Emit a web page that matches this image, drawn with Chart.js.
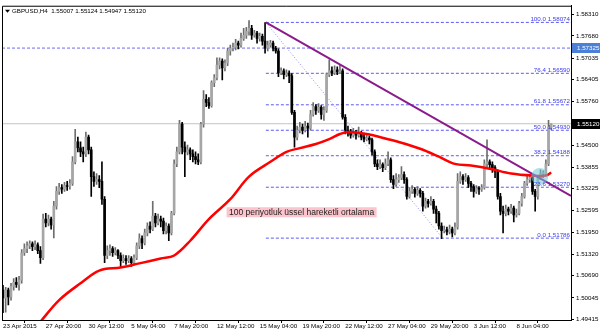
<!DOCTYPE html>
<html>
<head>
<meta charset="utf-8">
<title>GBPUSD H4</title>
<script src="https://cdn.jsdelivr.net/npm/chart.js@4.4.1/dist/chart.umd.min.js"></script>
<style>
  html, body { margin: 0; padding: 0; background: #fff; }
  canvas { display: block; }
</style>
</head>
<body>
<canvas id="chart" width="600" height="333"></canvas>
<script>
const symbolTitle = "GBPUSD,H4  1.55007 1.55124 1.54947 1.55120";

// H4 candles (bar 0 = 23 Apr 2015 04:00)
const opens = [
  1.5027, 1.5004, 1.5027, 1.5007, 1.5038, 1.5050, 1.5044, 1.5056, 1.5136, 1.5148,
  1.5156, 1.5162, 1.5154, 1.5159, 1.5142, 1.5122, 1.5234, 1.5223, 1.5234, 1.5217,
  1.5272, 1.5315, 1.5326, 1.5321, 1.5332, 1.5329, 1.5338, 1.5401, 1.5459, 1.5442,
  1.5430, 1.5424, 1.5473, 1.5436, 1.5358, 1.5344, 1.5349, 1.5344, 1.5292, 1.5128,
  1.5142, 1.5148, 1.5136, 1.5142, 1.5128, 1.5113, 1.5119, 1.5113, 1.5119, 1.5107,
  1.5122, 1.5156, 1.5177, 1.5165, 1.5194, 1.5214, 1.5205, 1.5243, 1.5223, 1.5234,
  1.5228, 1.5200, 1.5214, 1.5194, 1.5251, 1.5395, 1.5430, 1.5511, 1.5444, 1.5430,
  1.5436, 1.5424, 1.5416, 1.5407, 1.5401, 1.5511, 1.5583, 1.5574, 1.5565, 1.5632,
  1.5646, 1.5683, 1.5695, 1.5675, 1.5689, 1.5724, 1.5732, 1.5735, 1.5747, 1.5741,
  1.5761, 1.5770, 1.5781, 1.5790, 1.5770, 1.5776, 1.5761, 1.5767, 1.5753, 1.5732,
  1.5741, 1.5747, 1.5732, 1.5724, 1.5660, 1.5666, 1.5655, 1.5660, 1.5652, 1.5545,
  1.5473, 1.5493, 1.5502, 1.5493, 1.5505, 1.5499, 1.5539, 1.5562, 1.5551, 1.5560,
  1.5539, 1.5551, 1.5655, 1.5666, 1.5660, 1.5669, 1.5663, 1.5666, 1.5531, 1.5493,
  1.5488, 1.5479, 1.5485, 1.5479, 1.5485, 1.5473, 1.5467, 1.5470, 1.5465, 1.5430,
  1.5395, 1.5387, 1.5393, 1.5384, 1.5395, 1.5407, 1.5349, 1.5335, 1.5349, 1.5355,
  1.5364, 1.5349, 1.5300, 1.5315, 1.5321, 1.5309, 1.5318, 1.5309, 1.5272, 1.5286,
  1.5280, 1.5286, 1.5263, 1.5251, 1.5214, 1.5200, 1.5203, 1.5197, 1.5205, 1.5194,
  1.5211, 1.5344, 1.5358, 1.5349, 1.5355, 1.5338, 1.5329, 1.5315, 1.5323, 1.5321,
  1.5326, 1.5395, 1.5401, 1.5393, 1.5384, 1.5372, 1.5300, 1.5257, 1.5251, 1.5263,
  1.5257, 1.5266, 1.5246, 1.5251, 1.5280, 1.5300, 1.5338, 1.5349, 1.5355, 1.5315,
  1.5300, 1.5355, 1.5367, 1.5367, 1.5395, 1.5501
];
const highs = [
  1.5041, 1.5035, 1.5033, 1.5047, 1.5061, 1.5064, 1.5067, 1.5145, 1.5162, 1.5168,
  1.5171, 1.5168, 1.5171, 1.5165, 1.5154, 1.5249, 1.5251, 1.5246, 1.5240, 1.5286,
  1.5329, 1.5338, 1.5335, 1.5341, 1.5344, 1.5349, 1.5416, 1.5496, 1.5473, 1.5459,
  1.5444, 1.5488, 1.5479, 1.5444, 1.5372, 1.5367, 1.5361, 1.5401, 1.5300, 1.5156,
  1.5159, 1.5154, 1.5151, 1.5145, 1.5136, 1.5130, 1.5128, 1.5128, 1.5125, 1.5130,
  1.5165, 1.5191, 1.5185, 1.5205, 1.5223, 1.5226, 1.5286, 1.5251, 1.5249, 1.5243,
  1.5237, 1.5223, 1.5220, 1.5257, 1.5407, 1.5444, 1.5522, 1.5516, 1.5459, 1.5450,
  1.5442, 1.5436, 1.5430, 1.5424, 1.5516, 1.5609, 1.5597, 1.5588, 1.5637, 1.5655,
  1.5704, 1.5704, 1.5701, 1.5698, 1.5732, 1.5741, 1.5747, 1.5758, 1.5753, 1.5776,
  1.5790, 1.5793, 1.5813, 1.5799, 1.5784, 1.5781, 1.5776, 1.5773, 1.5807, 1.5753,
  1.5755, 1.5753, 1.5738, 1.5730, 1.5675, 1.5672, 1.5669, 1.5666, 1.5658, 1.5551,
  1.5505, 1.5516, 1.5511, 1.5519, 1.5514, 1.5551, 1.5574, 1.5568, 1.5571, 1.5565,
  1.5562, 1.5660, 1.5698, 1.5678, 1.5681, 1.5678, 1.5683, 1.5672, 1.5539, 1.5505,
  1.5496, 1.5499, 1.5493, 1.5502, 1.5490, 1.5485, 1.5482, 1.5476, 1.5470, 1.5436,
  1.5407, 1.5407, 1.5398, 1.5410, 1.5430, 1.5413, 1.5361, 1.5367, 1.5364, 1.5387,
  1.5372, 1.5355, 1.5326, 1.5332, 1.5326, 1.5329, 1.5323, 1.5315, 1.5295, 1.5292,
  1.5300, 1.5292, 1.5272, 1.5257, 1.5223, 1.5214, 1.5211, 1.5217, 1.5211, 1.5223,
  1.5367, 1.5372, 1.5364, 1.5367, 1.5361, 1.5344, 1.5335, 1.5332, 1.5329, 1.5335,
  1.5407, 1.5465, 1.5407, 1.5401, 1.5390, 1.5378, 1.5309, 1.5272, 1.5275, 1.5269,
  1.5277, 1.5272, 1.5263, 1.5286, 1.5309, 1.5344, 1.5361, 1.5364, 1.5361, 1.5321,
  1.5361, 1.5378, 1.5375, 1.5407, 1.5522, 1.5512
];
const lows = [
  1.4961, 1.4963, 1.4984, 1.4998, 1.5027, 1.5035, 1.5027, 1.5047, 1.5128, 1.5136,
  1.5148, 1.5142, 1.5145, 1.5133, 1.5105, 1.5116, 1.5211, 1.5214, 1.5205, 1.5179,
  1.5263, 1.5306, 1.5309, 1.5315, 1.5318, 1.5321, 1.5332, 1.5395, 1.5430, 1.5416,
  1.5401, 1.5416, 1.5424, 1.5300, 1.5329, 1.5335, 1.5326, 1.5277, 1.5107, 1.5119,
  1.5128, 1.5125, 1.5130, 1.5119, 1.5093, 1.5107, 1.5102, 1.5107, 1.5096, 1.5102,
  1.5116, 1.5148, 1.5148, 1.5159, 1.5185, 1.5194, 1.5200, 1.5211, 1.5217, 1.5211,
  1.5191, 1.5191, 1.5171, 1.5188, 1.5246, 1.5387, 1.5424, 1.5424, 1.5358, 1.5421,
  1.5407, 1.5401, 1.5395, 1.5393, 1.5395, 1.5502, 1.5562, 1.5557, 1.5560, 1.5620,
  1.5640, 1.5672, 1.5640, 1.5666, 1.5681, 1.5712, 1.5724, 1.5727, 1.5730, 1.5735,
  1.5755, 1.5761, 1.5770, 1.5758, 1.5764, 1.5747, 1.5753, 1.5741, 1.5718, 1.5724,
  1.5735, 1.5724, 1.5718, 1.5649, 1.5655, 1.5643, 1.5649, 1.5632, 1.5539, 1.5444,
  1.5465, 1.5485, 1.5482, 1.5488, 1.5473, 1.5493, 1.5534, 1.5539, 1.5545, 1.5525,
  1.5522, 1.5545, 1.5649, 1.5652, 1.5655, 1.5655, 1.5658, 1.5525, 1.5482, 1.5476,
  1.5470, 1.5473, 1.5467, 1.5473, 1.5465, 1.5459, 1.5462, 1.5453, 1.5421, 1.5387,
  1.5378, 1.5381, 1.5372, 1.5378, 1.5390, 1.5341, 1.5323, 1.5329, 1.5341, 1.5349,
  1.5338, 1.5292, 1.5295, 1.5309, 1.5298, 1.5303, 1.5298, 1.5257, 1.5266, 1.5269,
  1.5275, 1.5251, 1.5223, 1.5205, 1.5177, 1.5194, 1.5188, 1.5191, 1.5182, 1.5188,
  1.5205, 1.5338, 1.5335, 1.5344, 1.5326, 1.5315, 1.5298, 1.5309, 1.5306, 1.5315,
  1.5321, 1.5387, 1.5378, 1.5370, 1.5355, 1.5292, 1.5246, 1.5194, 1.5243, 1.5246,
  1.5251, 1.5226, 1.5240, 1.5246, 1.5272, 1.5295, 1.5332, 1.5341, 1.5306, 1.5257,
  1.5292, 1.5349, 1.5355, 1.5361, 1.5390, 1.5495
];
const closes = [
  1.5004, 1.5027, 1.5007, 1.5038, 1.5050, 1.5044, 1.5056, 1.5136, 1.5148, 1.5156,
  1.5162, 1.5154, 1.5159, 1.5142, 1.5122, 1.5234, 1.5223, 1.5234, 1.5217, 1.5272,
  1.5315, 1.5326, 1.5321, 1.5332, 1.5329, 1.5338, 1.5401, 1.5459, 1.5442, 1.5430,
  1.5424, 1.5473, 1.5436, 1.5358, 1.5344, 1.5349, 1.5344, 1.5292, 1.5128, 1.5142,
  1.5148, 1.5136, 1.5142, 1.5128, 1.5113, 1.5119, 1.5113, 1.5119, 1.5107, 1.5122,
  1.5156, 1.5177, 1.5165, 1.5194, 1.5214, 1.5205, 1.5243, 1.5223, 1.5234, 1.5228,
  1.5200, 1.5214, 1.5194, 1.5251, 1.5395, 1.5430, 1.5511, 1.5444, 1.5430, 1.5436,
  1.5424, 1.5416, 1.5407, 1.5401, 1.5511, 1.5583, 1.5574, 1.5565, 1.5632, 1.5646,
  1.5683, 1.5695, 1.5675, 1.5689, 1.5724, 1.5732, 1.5735, 1.5747, 1.5741, 1.5761,
  1.5770, 1.5781, 1.5790, 1.5770, 1.5776, 1.5761, 1.5767, 1.5753, 1.5732, 1.5741,
  1.5747, 1.5732, 1.5724, 1.5660, 1.5666, 1.5655, 1.5660, 1.5652, 1.5545, 1.5473,
  1.5493, 1.5502, 1.5493, 1.5505, 1.5499, 1.5539, 1.5562, 1.5551, 1.5560, 1.5539,
  1.5551, 1.5655, 1.5666, 1.5660, 1.5669, 1.5663, 1.5666, 1.5531, 1.5493, 1.5488,
  1.5479, 1.5485, 1.5479, 1.5485, 1.5473, 1.5467, 1.5470, 1.5465, 1.5430, 1.5395,
  1.5387, 1.5393, 1.5384, 1.5395, 1.5407, 1.5349, 1.5335, 1.5349, 1.5355, 1.5364,
  1.5349, 1.5300, 1.5315, 1.5321, 1.5309, 1.5318, 1.5309, 1.5272, 1.5286, 1.5280,
  1.5286, 1.5263, 1.5251, 1.5214, 1.5200, 1.5203, 1.5197, 1.5205, 1.5194, 1.5211,
  1.5344, 1.5358, 1.5349, 1.5355, 1.5338, 1.5329, 1.5315, 1.5323, 1.5321, 1.5326,
  1.5395, 1.5401, 1.5393, 1.5384, 1.5372, 1.5300, 1.5257, 1.5251, 1.5263, 1.5257,
  1.5266, 1.5246, 1.5251, 1.5280, 1.5300, 1.5338, 1.5349, 1.5355, 1.5315, 1.5300,
  1.5355, 1.5367, 1.5367, 1.5395, 1.5502, 1.5512
];

// axis ticks
const xTickBars = [0, 16, 32, 48, 64, 80, 96, 112, 128, 144, 160, 176, 192];
const xTickLabels = ["23 Apr 2015", "27 Apr 20:00", "30 Apr 12:00", "5 May 04:00", "7 May 20:00",
  "12 May 12:00", "15 May 04:00", "19 May 20:00", "22 May 12:00", "27 May 04:00",
  "29 May 20:00", "3 Jun 12:00", "8 Jun 04:00"];
const yTickValues = [1.58310, 1.57680, 1.57035, 1.56405, 1.55760, 1.55120, 1.54500, 1.53855,
  1.53225, 1.52595, 1.51950, 1.51320, 1.50690, 1.50045, 1.49415];

// 100 period EMA, read at a few bars
const emaBars = [14, 21, 29, 36, 44, 51, 59, 64, 70, 77, 85, 92, 100, 106, 111, 117, 122, 126, 129,
  136, 144, 148, 156, 163, 169, 175, 182, 190, 198, 203, 205];
const emaValues = [1.4935, 1.4998, 1.5047, 1.5084, 1.5093, 1.5105, 1.5119, 1.5128, 1.5171, 1.5234,
  1.5292, 1.5358, 1.5401, 1.5430, 1.5441, 1.5453, 1.5467, 1.5482, 1.5488, 1.5482, 1.5467, 1.5459,
  1.5439, 1.5416, 1.5395, 1.5390, 1.5381, 1.5367, 1.5361, 1.5361, 1.5370];

// fibonacci retracement
const fibLevels = [100.0, 76.4, 61.8, 50.0, 38.2, 23.6, 0.0];
const fibPrices = [1.58074, 1.56590, 1.55672, 1.54930, 1.54188, 1.53270, 1.51786];
const fibStartBar = 98.3;
const fibDiagBars = [98.3, 164.4];
const fibDiagPrices = [1.58074, 1.51786];

// trend line
const trendBars = [98.3, 212.4];
const trendPrices = [1.58074, 1.5302];

const alertPrice = 1.57325;
const lastPrice = 1.55120;
const noteText = "100 periyotluk üssel hareketli ortalama";
const noteBar = 83.6;
const notePrice = 1.5254;
const crossBar = 200.7;
const crossPrice = 1.5358;

const X_MIN = -0.37, X_MAX = 212.4;
const FONT = '"Liberation Sans", Arial, sans-serif';

const bars = closes.map((c, i) => i);
const isUp = i => closes[i] >= opens[i];

const flat = (p, from, col, dash, order, w) => ({
  type: 'line',
  data: [{ x: from, y: p }, { x: X_MAX, y: p }],
  borderColor: col, borderWidth: w || 1, borderDash: dash, pointRadius: 0, order: order
});

const datasets = [];

// horizontal helper lines
datasets.push(flat(lastPrice, X_MIN, '#c4c4c4', [], 20));
datasets.push(flat(alertPrice, X_MIN, '#6b6bf0', [3, 2], 19));
fibPrices.forEach(p => datasets.push(flat(p, fibStartBar, '#5b5bf5', [3, 2], 18)));
datasets.push({
  type: 'line',
  data: fibDiagBars.map((b, k) => ({ x: b, y: fibDiagPrices[k] })),
  borderColor: '#8c8cf5', borderWidth: 1, borderDash: [1, 2], pointRadius: 0, order: 17
});

// candles
datasets.push({
  type: 'bar',
  data: bars.map(i => ({ x: i, y: [lows[i], highs[i]] })),
  backgroundColor: bars.map(i => isUp(i) ? '#6e6e6e' : '#000000'),
  barThickness: 1, grouped: false, order: 10
});
datasets.push({
  type: 'bar',
  data: bars.map(i => ({ x: i, y: [opens[i], closes[i]] })),
  backgroundColor: bars.map(i => isUp(i) ? '#a6a6a6' : '#000000'),
  barThickness: 2, grouped: false, minBarLength: 1, order: 9
});

// EMA
datasets.push({
  type: 'line',
  data: emaBars.map((b, k) => ({ x: b, y: emaValues[k] })),
  borderColor: '#ff0000', borderWidth: 2.5, pointRadius: 0, tension: 0.35, order: 5
});

// trend line
datasets.push({
  type: 'line',
  data: trendBars.map((b, k) => ({ x: b, y: trendPrices[k] })),
  borderColor: '#8b1a8b', borderWidth: 2, pointRadius: 0, order: 4
});

// highlight at the crossing
datasets.push({
  type: 'line',
  data: [{ x: crossBar, y: crossPrice }],
  showLine: false, pointRadius: 8.5, pointBorderWidth: 0,
  pointBackgroundColor: 'rgba(110, 200, 215, 0.55)', order: 3
});

const overlay = {
  id: 'overlay',
  afterDatasetsDraw(chart) {
    const { ctx, chartArea: a, scales: { x, y } } = chart;
    ctx.save();
    // fib labels
    ctx.font = '6.2px ' + FONT;
    ctx.fillStyle = '#3a3af0';
    ctx.textAlign = 'right';
    ctx.textBaseline = 'bottom';
    fibLevels.forEach((lv, k) => {
      ctx.fillText(lv.toFixed(1) + ' ' + fibPrices[k].toFixed(5), a.right - 1, y.getPixelForValue(fibPrices[k]));
    });
    // note
    ctx.font = '8.5px ' + FONT;
    const nx = x.getPixelForValue(noteBar);
    const ny = y.getPixelForValue(notePrice);
    const w = ctx.measureText(noteText).width;
    ctx.fillStyle = '#fcc4cc';
    ctx.fillRect(nx, ny - 5, w + 5, 10);
    ctx.fillStyle = '#222';
    ctx.textAlign = 'left';
    ctx.textBaseline = 'middle';
    ctx.fillText(noteText, nx + 2.5, ny + 0.5);
    ctx.restore();
  },
  afterDraw(chart) {
    const { ctx, chartArea: a, scales: { y } } = chart;
    ctx.save();
    // frame
    ctx.strokeStyle = '#000';
    ctx.lineWidth = 1;
    ctx.beginPath();
    ctx.moveTo(a.left + 0.5, a.bottom);
    ctx.lineTo(a.left + 0.5, a.top + 0.5);
    ctx.lineTo(a.right, a.top + 0.5);
    ctx.stroke();
    // title
    ctx.fillStyle = '#000';
    ctx.beginPath();
    ctx.moveTo(a.left + 3, a.top + 4);
    ctx.lineTo(a.left + 8, a.top + 4);
    ctx.lineTo(a.left + 5.5, a.top + 7);
    ctx.closePath();
    ctx.fill();
    ctx.font = '6.2px ' + FONT;
    ctx.textAlign = 'left';
    ctx.textBaseline = 'middle';
    ctx.fillText(symbolTitle, a.left + 10, a.top + 5.5);
    // price boxes on the axis
    const box = (p, bg) => {
      const py = Math.round(y.getPixelForValue(p));
      ctx.fillStyle = bg;
      ctx.fillRect(a.right + 1, py - 5, 600 - a.right - 1, 10);
      ctx.fillStyle = '#fff';
      ctx.fillText(p.toFixed(5), a.right + 6, py + 0.5);
    };
    box(alertPrice, '#4b7fd8');
    box(lastPrice, '#000');
    ctx.restore();
  }
};

new Chart(document.getElementById('chart'), {
  type: 'bar',
  data: { datasets: datasets },
  options: {
    responsive: false,
    animation: false,
    devicePixelRatio: 1,
    layout: { padding: { left: 2, top: 2, right: 0, bottom: 0 }, autoPadding: false },
    plugins: { legend: { display: false }, tooltip: { enabled: false } },
    scales: {
      x: {
        type: 'linear', min: X_MIN, max: X_MAX, offset: false,
        afterBuildTicks: s => { s.ticks = xTickBars.map(v => ({ value: v })); },
        afterFit: s => { s.height = 13; },
        grid: { drawOnChartArea: false, drawTicks: true, tickLength: 3, color: '#000' },
        border: { display: true, color: '#000' },
        ticks: {
          autoSkip: false, maxRotation: 0, align: 'start', padding: 0,
          color: '#000', font: { family: FONT, size: 6.2 },
          callback: v => xTickLabels[xTickBars.indexOf(v)]
        }
      },
      y: {
        type: 'linear', position: 'right', min: 1.4940, max: 1.5856,
        afterBuildTicks: s => { s.ticks = yTickValues.map(v => ({ value: v })); },
        afterFit: s => { s.width = 29; },
        grid: { drawOnChartArea: false, drawTicks: true, tickLength: 3, color: '#000' },
        border: { display: true, color: '#000' },
        ticks: {
          padding: 2, color: '#000', font: { family: FONT, size: 6.2 },
          callback: v => v.toFixed(5)
        }
      }
    }
  },
  plugins: [overlay]
});
</script>
</body>
</html>
